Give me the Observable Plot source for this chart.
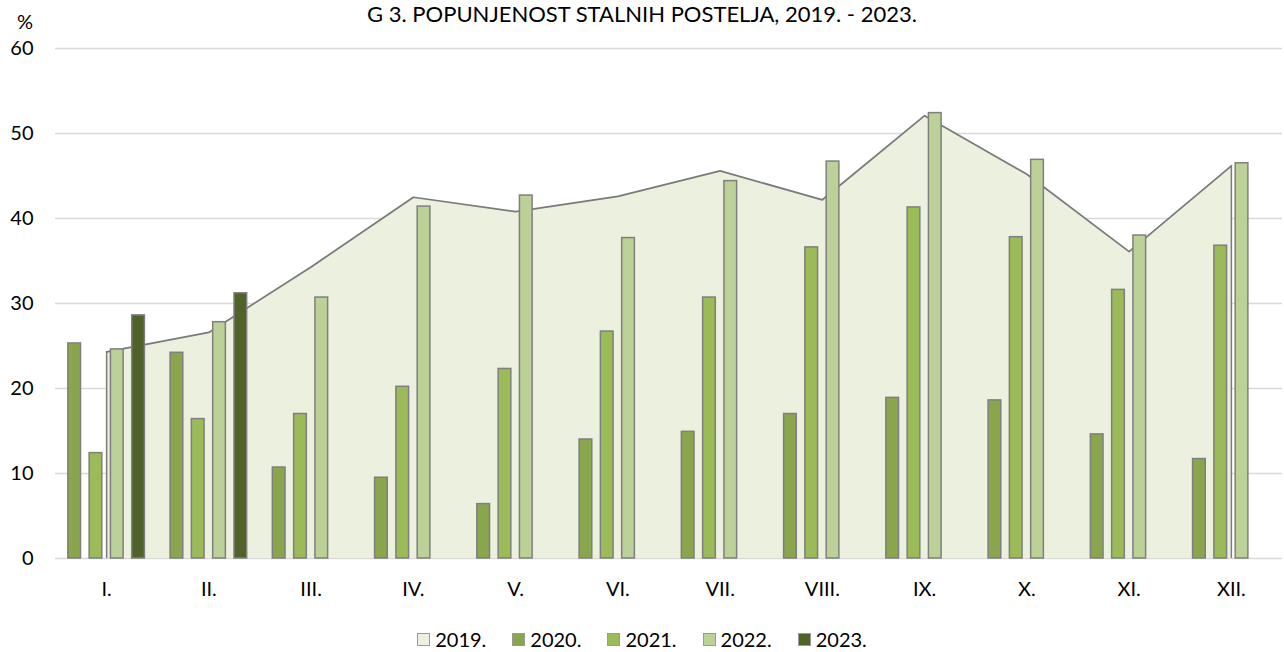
<!DOCTYPE html>
<html><head><meta charset="utf-8">
<script src="https://cdn.jsdelivr.net/npm/d3@7"></script>
<script src="https://cdn.jsdelivr.net/npm/@observablehq/plot@0.6"></script>
<style>
body{margin:0;background:#fff;font-family:Lato, "Open Sans", sans-serif;color:#000;}
#wrap{position:relative;width:1284px;height:652px;overflow:hidden;background:#fff;}
#title{position:absolute;left:0;width:1284px;top:0px;text-align:center;font-size:22px;line-height:27px;white-space:nowrap;}
#chart{position:absolute;left:0;top:0;}
#unit{position:absolute;left:17px;top:9px;font-size:20px;line-height:24px;}
#legend{position:absolute;top:627px;left:0;width:1284px;display:flex;justify-content:center;font-size:20px;line-height:24px;}
#legend .item{display:flex;align-items:center;margin:0 13px;}
#legend .sw{width:11px;height:11px;border:1px solid #9a9a9a;margin-right:5px;}
</style>
</head><body>
<div id="wrap">
  <div id="title">G 3. POPUNJENOST STALNIH POSTELJA, 2019. - 2023.</div>
  <div id="unit">%</div>
  <div id="chart"></div>
  <div id="legend"></div>
</div>
<script>
const months = ["I.","II.","III.","IV.","V.","VI.","VII.","VIII.","IX.","X.","XI.","XII."];
const years = ["2019.","2020.","2021.","2022.","2023."];
const v2019 = [24.3,26.6,34.3,42.5,40.8,42.6,45.6,42.2,52.1,45.2,36.1,46.2];
const v2020 = [25.3,24.2,10.7,9.5,6.4,14.0,14.9,17.0,18.9,18.6,14.6,11.7];
const v2021 = [12.4,16.4,17.0,20.2,22.3,26.7,30.7,36.6,41.3,37.8,31.6,36.8];
const v2022 = [24.6,27.8,30.7,41.4,42.7,37.7,44.4,46.7,52.4,46.9,38.0,46.5];
const v2023 = [28.6,31.2];
const yTicks = [0,10,20,30,40,50,60];
const colors = ["#ebf1de","#8aa64c","#9bbb59","#bcd197","#4f6228"];

const area = v2019.map((v,i)=>({i, month: months[i], value: v}));
const barSeries = [v2020, v2021, v2022, v2023];
const bars = [];
barSeries.forEach((arr,k)=>arr.forEach((v,i)=>bars.push({i, k, year: years[k+1], month: months[i], value: v})));

const slot = 0.2083, bw = 0.124;

const chart = Plot.plot({
  width: 1284, height: 610,
  marginLeft: 55, marginRight: 2, marginTop: 48, marginBottom: 52,
  x: {type: "linear", domain: [-0.5, 11.5]},
  y: {domain: [0, 60]},
  color: {domain: years, range: colors},
  style: {fontFamily: "Lato, 'Open Sans', sans-serif", fontSize: "20px", color: "#000", background: "transparent"},
  marks: [
    Plot.gridY(yTicks, {stroke: "#d9d9d9", strokeOpacity: 1, strokeWidth: 1.5}),
    Plot.areaY(area, {x: "i", y: "value", fill: "#ebf1de"}),
    Plot.lineY(area, {x: "i", y: "value", stroke: "#7a7a7a", strokeWidth: 1.75}),
    Plot.ruleX([area[0], area[area.length-1]], {x: "i", y1: 0, y2: "value", stroke: "#7a7a7a", strokeWidth: 1.5}),
    Plot.rectY(bars, {
      x1: d => d.i + (d.k - 1.5) * slot - bw / 2,
      x2: d => d.i + (d.k - 1.5) * slot + bw / 2,
      y1: 0, y2: "value",
      fill: "year", stroke: "#7f7f7f", strokeWidth: 1.5
    }),
    Plot.axisX({ticks: d3.range(months.length), tickFormat: i => months[i], tickSize: 0, tickPadding: 23, label: null}),
    Plot.axisY({ticks: yTicks, tickSize: 0, tickPadding: 22, label: null})
  ]
});
document.getElementById("chart").appendChild(chart);

const legend = document.getElementById("legend");
years.forEach((y,k)=>{
  const it = document.createElement("div"); it.className = "item";
  const sw = document.createElement("div"); sw.className = "sw"; sw.style.background = colors[k];
  const t = document.createElement("span"); t.textContent = y;
  it.appendChild(sw); it.appendChild(t); legend.appendChild(it);
});
</script>
</body></html>
